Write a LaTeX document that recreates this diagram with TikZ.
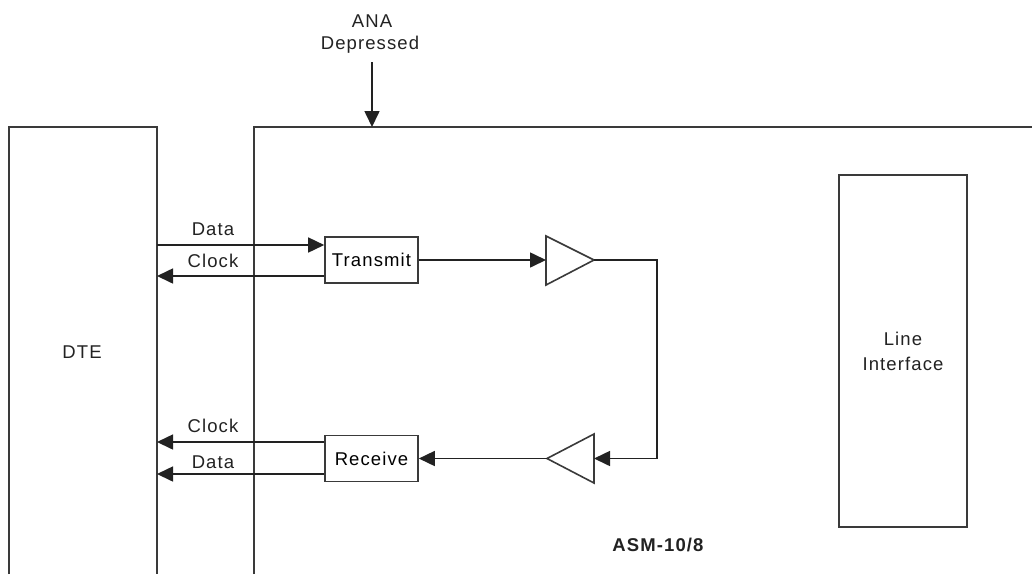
\documentclass[tikz,border=0pt]{standalone}
\usepackage{fontspec}
\setmainfont{Liberation Sans}[LetterSpace=6]
\usetikzlibrary{arrows.meta}
\definecolor{ln}{HTML}{3A3A3A}
\definecolor{ar}{HTML}{222222}
\tikzset{
  boxline/.style={draw=ln, line width=1.6pt},
  wire/.style={draw=ar, line width=1.6pt},
  arr/.style={wire, -{Triangle[length=16pt,width=15pt]}},
  blk/.style={boxline, rectangle, inner sep=0pt, minimum width=93pt, minimum height=46pt, font=\fontsize{18.5}{25}\selectfont},
  lbl/.style={inner sep=0pt, font=\fontsize{18.5}{25}\selectfont, text=ar, align=center},
}
\begin{document}
\begin{tikzpicture}[x=1pt,y=-1pt]
\useasboundingbox (0,0) rectangle (1032,574);
% DTE and ASM outlines (open at bottom / right)
\draw[boxline] (9,574) -- (9,127) -- (157,127) -- (157,574);
\draw[boxline] (254,574) -- (254,127) -- (1032,127);
\node[lbl] (dte) at (82,352) {DTE};
% ANA
\node[lbl] (ana) at (372,21) {ANA};
\node[lbl] (dep) at (370,45) {Depressed};
\coordinate (anaStart) at (372,62);
\coordinate (anaEnd) at (372,127);
\draw[arr] (anaStart) -- (anaEnd);
% blocks
\node[blk] (tx) at (371.5,260) {Transmit};
\node[blk] (rx) at (371.5,458.5) {Receive};
\node[boxline, rectangle, minimum width=128pt, minimum height=352pt, inner sep=0pt, lbl] (li) at (903,351) {Line\\Interface};
\node[lbl, font=\fontsize{18.5}{25}\selectfont\bfseries] (asm) at (658,545) {ASM-10/8};
% DTE edge points
\coordinate (dTxData) at (157,245);
\coordinate (dTxClk) at (157,276);
\coordinate (dRxClk) at (157,442);
\coordinate (dRxData) at (157,474);
\draw[arr] (dTxData) -- (tx.west |- dTxData);
\draw[arr] (tx.west |- dTxClk) -- (dTxClk);
\draw[arr] (rx.west |- dRxClk) -- (dRxClk);
\draw[arr] (rx.west |- dRxData) -- (dRxData);
\node[lbl] (lData1) at (213,229) {Data};
\node[lbl] (lClk1) at (213,261) {Clock};
\node[lbl] (lClk2) at (213,426) {Clock};
\node[lbl] (lData2) at (213,462) {Data};
% amplifiers
\coordinate (t1base) at (546,260);
\coordinate (t1tip) at (594,260);
\draw[boxline, line join=miter] (546,236) -- (594,260) -- (546,285) -- cycle;
\coordinate (t2base) at (594,458.5);
\coordinate (t2tip) at (547,458.5);
\draw[boxline, line join=miter] (594,434) -- (547,458.5) -- (594,483) -- cycle;
\coordinate (loopTop) at (657,260);
\coordinate (loopBot) at (657,458.5);
\draw[arr] (tx.east |- t1base) -- (t1base);
\draw[arr] (t1tip) -- (loopTop) -- (loopBot) -- (t2base);
\draw[arr] (t2tip) -- (rx.east |- t2tip);
\end{tikzpicture}
\end{document}
